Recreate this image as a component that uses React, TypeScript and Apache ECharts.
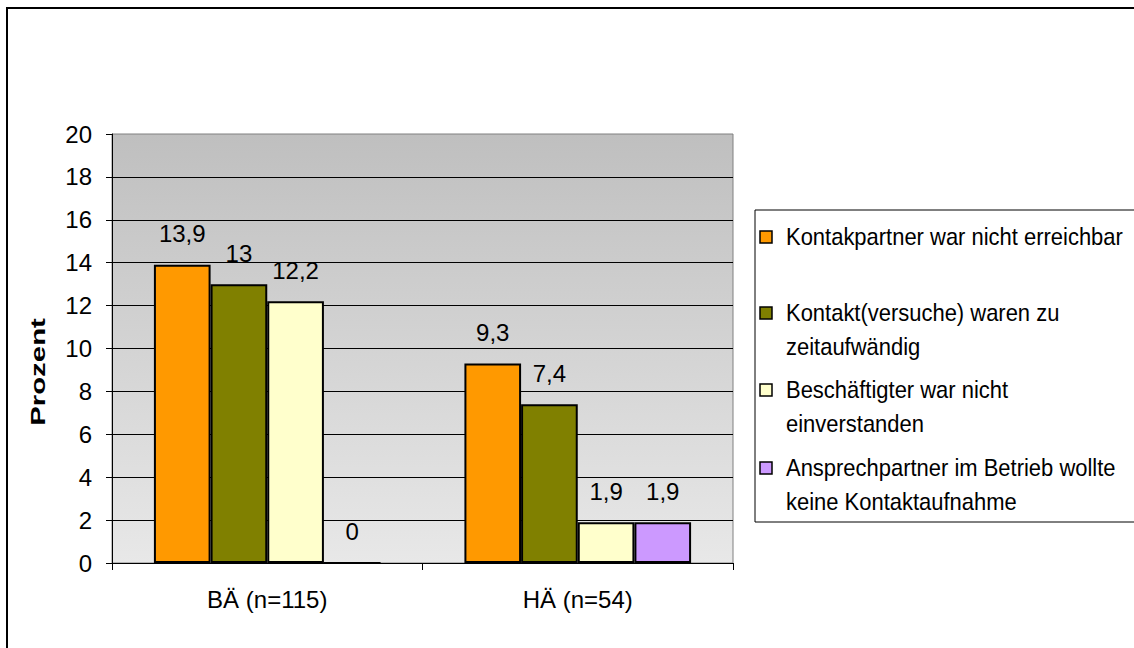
import React, { useEffect, useRef } from "react";
import * as echarts from "echarts";

const categories = ["BÄ (n=115)", "HÄ (n=54)"];
const seriesNames = [
  "Kontakpartner war nicht erreichbar",
  "Kontakt(versuche) waren zu zeitaufwändig",
  "Beschäftigter war nicht einverstanden",
  "Ansprechpartner im Betrieb wollte keine Kontaktaufnahme",
];
const legendLabels = [
  "Kontakpartner war nicht erreichbar",
  "Kontakt(versuche) waren zu\nzeitaufwändig",
  "Beschäftigter war nicht\neinverstanden",
  "Ansprechpartner im Betrieb wollte\nkeine Kontaktaufnahme",
];
const nichtErreichbar = [13.9, 9.3];
const zuZeitaufwaendig = [13, 7.4];
const nichtEinverstanden = [12.2, 1.9];
const keineKontaktaufnahme = [0, 1.9];
const seriesValues = [nichtErreichbar, zuZeitaufwaendig, nichtEinverstanden, keineKontaktaufnahme];
const colors = ["#FF9900", "#808000", "#FFFFCC", "#CC99FF"];
const yAxisTitle = "Prozent";
const yMin = 0;
const yMax = 20;
const yInterval = 2;

const FONT = "'Liberation Sans', Arial, sans-serif";

export default function App() {
  const ref = useRef<HTMLDivElement>(null);
  useEffect(() => {
    if (!ref.current) return;
    const chart = echarts.init(ref.current, null, { renderer: "svg" });

    const legendLineCenters = [237, 313, 390, 468];
    const legendGraphics: any[] = [];
    legendLabels.forEach((lbl, i) => {
      legendGraphics.push({
        type: "rect",
        shape: { x: 760, y: legendLineCenters[i] - 6, width: 12, height: 12 },
        style: { fill: colors[i], stroke: "#000", lineWidth: 1.5 },
        z: 10,
      });
      legendGraphics.push({
        type: "text",
        x: 786,
        y: legendLineCenters[i] - 17,
        scaleX: 0.915,
        style: {
          text: lbl,
          fontFamily: FONT,
          fontSize: 24,
          lineHeight: 34,
          fill: "#000",
          verticalAlign: "top",
          align: "left",
        },
        z: 10,
      });
    });

    chart.setOption({
      animation: false,
      backgroundColor: "#fff",
      textStyle: { fontFamily: FONT },
      grid: {
        left: 112,
        right: 401,
        top: 134,
        bottom: 85,
        show: true,
        borderColor: "#808080",
        borderWidth: 1,
        backgroundColor: new echarts.graphic.LinearGradient(0, 0, 0, 1, [
          { offset: 0, color: "#bfbfbf" },
          { offset: 1, color: "#e8e8e8" },
        ]),
      },
      graphic: [
        {
          type: "rect",
          shape: { x: 7, y: 8, width: 1200, height: 700 },
          style: { fill: "none", stroke: "#000", lineWidth: 2 },
          silent: true,
        },
        {
          type: "rect",
          shape: { x: 755, y: 210, width: 400, height: 312 },
          style: { fill: "#fff", stroke: "#000", lineWidth: 1 },
          z: 5,
        },
        {
          type: "text",
          x: 38,
          y: 372,
          rotation: Math.PI / 2,
          scaleX: 1.4,
          style: {
            text: yAxisTitle,
            fontFamily: FONT,
            fontWeight: "bold",
            fontSize: 21,
            fill: "#000",
            align: "center",
            verticalAlign: "middle",
          },
        },
        ...legendGraphics,
      ],
      xAxis: {
        type: "category",
        data: categories,
        axisLine: { lineStyle: { color: "#000", width: 1 } },
        axisTick: { show: true, length: 7, alignWithLabel: false, lineStyle: { color: "#000" } },
        axisLabel: { color: "#000", fontSize: 24, margin: 24, fontFamily: FONT },
        splitLine: { show: false },
      },
      yAxis: {
        type: "value",
        min: yMin,
        max: yMax,
        interval: yInterval,
        axisLine: { show: true, lineStyle: { color: "#000", width: 1 } },
        axisTick: { show: true, length: 6, lineStyle: { color: "#000" } },
        axisLabel: { color: "#000", fontSize: 24, margin: 20, fontFamily: FONT },
        splitLine: { show: true, showMaxLine: false, lineStyle: { color: "#000", width: 1 } },
      },
      series: seriesNames.map((name, i) => ({
        name,
        type: "bar",
        data: seriesValues[i],
        barGap: "0%",
        barCategoryGap: "27%",
        itemStyle: { color: colors[i], borderColor: "#000", borderWidth: 2 },
        label: {
          show: true,
          position: "top",
          distance: 19,
          fontSize: 24,
          color: "#000",
          fontFamily: FONT,
          formatter: (p: any) => String(p.value).replace(".", ","),
        },
      })),
    });
    return () => chart.dispose();
  }, []);
  return (
    <div
      ref={ref}
      style={{ position: "fixed", left: 0, top: 0, width: 1134, height: 648 }}
    />
  );
}
